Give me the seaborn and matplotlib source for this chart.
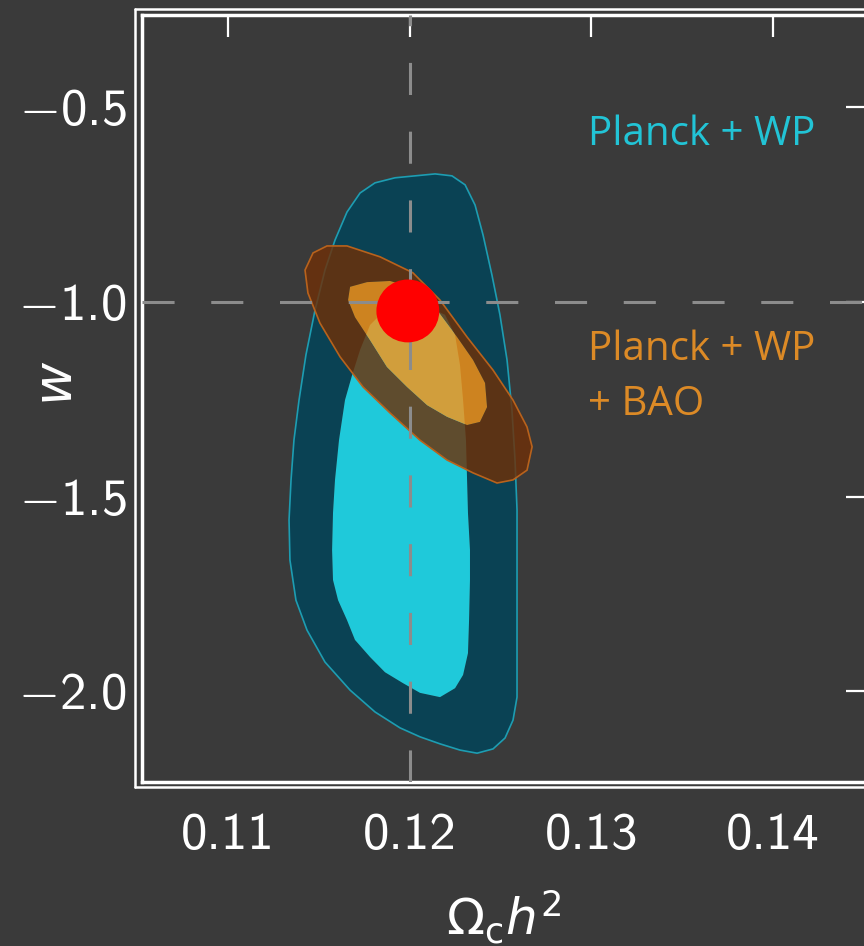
import matplotlib
matplotlib.use("Agg")
import matplotlib.pyplot as plt
import seaborn as sns
import pandas as pd
from matplotlib.path import Path
from matplotlib.patches import PathPatch
from matplotlib.lines import Line2D

# contour outlines (Omega_c h^2 , w)
# Planck + WP, 2 sigma
wp2_x = [0.11727, 0.11809, 0.11919, 0.12029, 0.12140, 0.12233, 0.12305, 0.12360, 0.12404, 0.12453,
         0.12497, 0.12536, 0.12563, 0.12580, 0.12591, 0.12591, 0.12591, 0.12591, 0.12591, 0.12569,
         0.12525, 0.12459, 0.12371, 0.12277, 0.12167, 0.12057, 0.11947, 0.11809, 0.11672, 0.11534,
         0.11435, 0.11374, 0.11341, 0.11336, 0.11347, 0.11363, 0.11391, 0.11429, 0.11479, 0.11534,
         0.11589, 0.11655]
wp2_y = [-0.720, -0.694, -0.681, -0.676, -0.671, -0.676, -0.699, -0.751, -0.828, -0.931,
         -1.033, -1.149, -1.277, -1.406, -1.534, -1.663, -1.791, -1.920, -2.015, -2.074,
         -2.120, -2.148, -2.159, -2.151, -2.135, -2.117, -2.094, -2.053, -1.997, -1.925,
         -1.843, -1.766, -1.663, -1.560, -1.457, -1.355, -1.252, -1.136, -1.021, -0.918,
         -0.841, -0.769]
# Planck + WP, 1 sigma
wp1_x = [0.11947, 0.12084, 0.12195, 0.12250, 0.12277, 0.12294, 0.12310, 0.12316, 0.12321, 0.12332,
         0.12332, 0.12327, 0.12321, 0.12294, 0.12250, 0.12167, 0.12057, 0.11963, 0.11864, 0.11782,
         0.11699, 0.11655, 0.11606, 0.11578, 0.11573, 0.11578, 0.11589, 0.11611, 0.11644, 0.11683,
         0.11727, 0.11782, 0.11864]
wp1_y = [-1.008, -1.008, -1.033, -1.085, -1.162, -1.252, -1.355, -1.457, -1.542, -1.637,
         -1.714, -1.817, -1.902, -1.958, -1.992, -2.015, -2.004, -1.979, -1.951, -1.912,
         -1.868, -1.817, -1.766, -1.714, -1.637, -1.542, -1.457, -1.355, -1.252, -1.188,
         -1.123, -1.059, -1.021]
# Planck + WP + BAO, 2 sigma
bao2_x = [0.11424, 0.11468, 0.11545, 0.11655, 0.11837, 0.12018, 0.12167, 0.12316, 0.12459, 0.12569,
          0.12646, 0.12674, 0.12646, 0.12569, 0.12481, 0.12349, 0.12206, 0.12057, 0.11892, 0.11743,
          0.11617, 0.11506, 0.11440]
bao2_y = [-0.918, -0.874, -0.856, -0.856, -0.884, -0.925, -0.995, -1.090, -1.175, -1.252,
          -1.321, -1.372, -1.432, -1.457, -1.465, -1.439, -1.406, -1.355, -1.285, -1.218,
          -1.141, -1.054, -0.977]
# Planck + WP + BAO, 1 sigma
bao1_x = [0.11672, 0.11765, 0.11892, 0.12018, 0.12151, 0.12261, 0.12349, 0.12415, 0.12426, 0.12387,
          0.12316, 0.12206, 0.12096, 0.11985, 0.11875, 0.11782, 0.11699, 0.11661]
bao1_y = [-0.961, -0.949, -0.946, -0.964, -1.021, -1.090, -1.149, -1.208, -1.270, -1.308,
          -1.316, -1.295, -1.265, -1.218, -1.167, -1.098, -1.039, -0.995]

# LCDM point
lcdm = pd.DataFrame({"omch2": [0.1199], "w": [-1.023]})
fid_x = 0.12
fid_w = -1.0

xticks = [0.11, 0.12, 0.13, 0.14]
xticklabels = ["0.11", "0.12", "0.13", "0.14"]
yticks = [-0.5, -1.0, -1.5, -2.0]
yticklabels = ["-0.5", "-1.0", "-1.5", "-2.0"]

bg = "#3a3a3a"
sns.set_theme(style="dark", rc={"figure.facecolor": bg, "axes.facecolor": bg,
                                "axes.edgecolor": "white", "xtick.color": "white",
                                "ytick.color": "white", "text.color": "white",
                                "axes.labelcolor": "white"})
plt.rcParams["font.family"] = ["DejaVu Sans"]
plt.rcParams["mathtext.fontset"] = "dejavusans"

fig = plt.figure(figsize=(8.64, 9.46), dpi=100)
ax = fig.add_axes([142 / 864, 164 / 946, 726 / 864, 767 / 946])


def poly(xs, ys):
    v = list(zip(xs, ys))
    return Path(v + [v[0]], [Path.MOVETO] + [Path.LINETO] * (len(v) - 1) + [Path.CLOSEPOLY])


def ring(xo, yo, xi, yi):
    inner = list(zip(xi, yi))[::-1]
    pi = Path(inner + [inner[0]], [Path.MOVETO] + [Path.LINETO] * (len(inner) - 1) + [Path.CLOSEPOLY])
    return Path.make_compound_path(poly(xo, yo), pi)


def tex_minus(s):
    # computer-modern sans digits, TeX minus sign
    if s.startswith("-"):
        return "$-$" + s[1:]
    return s


# Planck + WP
ax.add_patch(PathPatch(ring(wp2_x, wp2_y, wp1_x, wp1_y), facecolor="#0a4254", edgecolor="none", zorder=2))
ax.add_patch(PathPatch(poly(wp2_x, wp2_y), facecolor="none", edgecolor="#1d9db2", lw=1.2, zorder=2))
ax.add_patch(PathPatch(poly(wp1_x, wp1_y), facecolor="#1fc9da", edgecolor="none", zorder=2))

# Planck + WP + BAO
ax.add_patch(PathPatch(ring(bao2_x, bao2_y, bao1_x, bao1_y), facecolor="#6e3008", alpha=0.82,
                       edgecolor="none", zorder=3))
ax.add_patch(PathPatch(poly(bao2_x, bao2_y), facecolor="none", edgecolor="#b8621c", lw=1.2, zorder=3))
ax.add_patch(PathPatch(poly(bao1_x, bao1_y), facecolor="#ff9414", alpha=0.8, edgecolor="none", zorder=3))

dash = (0, (10.5, 12))
ax.axvline(fid_x, color="#8c8c8c", lw=2.2, linestyle=dash, zorder=4)
ax.axhline(fid_w, color="#8c8c8c", lw=2.2, linestyle=dash, zorder=4)

sns.scatterplot(data=lcdm, x="omch2", y="w", s=2050, color="#ff0000", edgecolor="none",
                zorder=5, ax=ax, legend=False)

ax.set_xlim(0.105266, 0.14523)
ax.set_ylim(-2.233, -0.2628)
ax.set_xticks(xticks)
ax.set_yticks(yticks)
ax.set_xticklabels([tex_minus(t) for t in xticklabels], fontfamily="cmss10")
ax.set_yticklabels([tex_minus(t) for t in yticklabels], fontfamily="cmss10", math_fontfamily="cm")
ax.tick_params(axis="both", which="major", direction="in", length=16, width=1.6,
               top=True, right=True, labelsize=38)
ax.tick_params(axis="x", pad=22)
ax.tick_params(axis="y", pad=11)
for s in ax.spines.values():
    s.set_color("white")
    s.set_linewidth(2.5)
ax.grid(False)

ax.set_xlabel(r"$\Omega_{\mathrm{c}}h^2$", fontsize=36)
ax.set_ylabel(r"$w$", fontsize=38)
ax.xaxis.set_label_coords(0.4986, -0.176)
ax.xaxis.label.set_va("center")
ax.yaxis.set_label_coords(-0.117, 0.52)
ax.yaxis.label.set_va("center")

ax.text(0.1298, -0.571, "Planck + WP", color="#22c4d6", fontsize=29,
        family=["Open Sans", "DejaVu Sans"], va="center", ha="left", zorder=6)
ax.text(0.1298, -1.123, "Planck + WP", color="#dc8a26", fontsize=29,
        family=["Open Sans", "DejaVu Sans"], va="center", ha="left", zorder=6)
ax.text(0.1298, -1.265, "+ BAO", color="#dc8a26", fontsize=29,
        family=["Open Sans", "DejaVu Sans"], va="center", ha="left", zorder=6)

# outer frame of the slide panel
fx = 135 / 864
fig.add_artist(Line2D([fx, fx], [1 - 9 / 946, 1 - 787 / 946], color="white", lw=1.8))
fig.add_artist(Line2D([fx, 1], [1 - 9 / 946, 1 - 9 / 946], color="white", lw=1.8))
fig.add_artist(Line2D([fx, 1], [1 - 787 / 946, 1 - 787 / 946], color="white", lw=1.8))

fig.savefig("out.png", dpi=100, facecolor=bg)
